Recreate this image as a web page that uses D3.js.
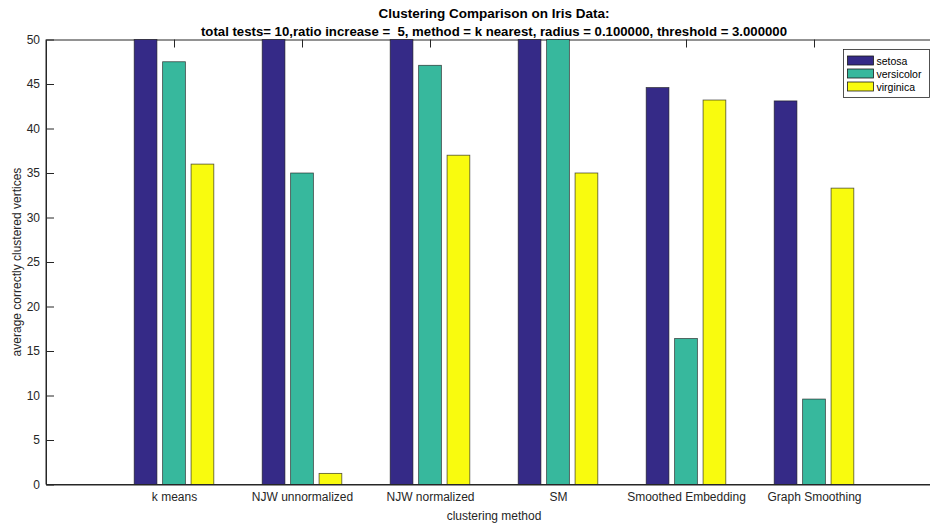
<!DOCTYPE html>
<html>
<head>
<meta charset="utf-8">
<script src="https://cdn.jsdelivr.net/npm/d3@7"></script>
<style>
  html, body { margin: 0; padding: 0; background: #fff; }
  svg { display: block; font-family: Arial, "Liberation Sans", Helvetica, sans-serif; }
</style>
</head>
<body>
<svg id="chart" width="930" height="525"></svg>
<script>
// Clustering methods compared on the Iris data set
const methods = ["k means", "NJW unnormalized", "NJW normalized", "SM", "Smoothed Embedding", "Graph Smoothing"];
const species = ["setosa", "versicolor", "virginica"];
// average number of correctly clustered vertices per species
const setosa = [50, 50, 50, 50, 44.6, 43.1];
const versicolor = [47.5, 35, 47.1, 50, 16.4, 9.6];
const virginica = [36, 1.25, 37, 35, 43.2, 33.3];
const yTicks = [0, 5, 10, 15, 20, 25, 30, 35, 40, 45, 50];
const colors = ["#352a87", "#37b89d", "#f9fb0e"];

const seriesValues = [setosa, versicolor, virginica];

const svg = d3.select("#chart");
const margin = { left: 46, top: 39.5, right: 942, bottom: 484.5 };

// x runs over category index, with a full unit of room on each side (0 .. n+1)
const x = d3.scaleLinear().domain([0, methods.length + 1]).range([margin.left, margin.right]);
const y = d3.scaleLinear().domain([0, 50]).range([margin.bottom, margin.top]);

const groupWidth = Math.min(0.8, species.length / (species.length + 1.5));
const step = groupWidth / species.length;
const barW = 0.8 * step;

const axisColor = "#262626";

// bars
const g = svg.append("g");
species.forEach((s, si) => {
  const off = (si - (species.length - 1) / 2) * step;
  g.selectAll(null)
    .data(seriesValues[si])
    .enter().append("rect")
    .attr("x", (d, i) => x(i + 1 + off - barW / 2))
    .attr("width", x(barW) - x(0))
    .attr("y", d => y(d))
    .attr("height", d => y(0) - y(d))
    .attr("fill", colors[si])
    .attr("stroke", "#1a1a1a")
    .attr("stroke-opacity", 0.75)
    .attr("stroke-width", 0.8);
});

// y axis (left) with ticks pointing inward
const yAxis = d3.axisLeft(y).tickValues(yTicks).tickSize(-8).tickPadding(6).tickSizeOuter(0);
const yg = svg.append("g").attr("transform", `translate(${margin.left},0)`).call(yAxis);
yg.select(".domain").attr("stroke", axisColor);
yg.selectAll(".tick line").attr("stroke", axisColor);
yg.selectAll(".tick text").attr("fill", axisColor).attr("font-size", 12);

// x axis (bottom): labels, inward ticks hidden under the bars
const xAxis = d3.axisBottom(x).tickValues(d3.range(1, methods.length + 1))
  .tickFormat(d => methods[d - 1]).tickSize(-8).tickPadding(8).tickSizeOuter(0);
const xg = svg.append("g").attr("transform", `translate(0,${margin.bottom})`).call(xAxis);
xg.lower();
xg.select(".domain").attr("stroke", axisColor);
xg.selectAll(".tick line").attr("stroke", axisColor);
xg.selectAll(".tick text").attr("fill", axisColor).attr("font-size", 12);

// top axis line with inward ticks
const xTop = d3.axisTop(x).tickValues(d3.range(1, methods.length + 1)).tickFormat("")
  .tickSize(-8).tickSizeOuter(0);
const tg = svg.append("g").attr("transform", `translate(0,${margin.top})`).call(xTop);
tg.lower();
tg.select(".domain").attr("stroke", axisColor);
tg.selectAll(".tick line").attr("stroke", axisColor);
// baseline and left spine drawn over the bars
svg.append("line")
  .attr("x1", margin.left).attr("x2", margin.right)
  .attr("y1", margin.bottom).attr("y2", margin.bottom)
  .attr("stroke", axisColor).attr("stroke-width", 1);
svg.append("line")
  .attr("x1", margin.left).attr("x2", margin.left)
  .attr("y1", margin.top).attr("y2", margin.bottom)
  .attr("stroke", axisColor).attr("stroke-width", 1);

// titles and axis labels
const cx = (margin.left + margin.right) / 2;
svg.append("text").attr("x", cx).attr("y", 18).attr("text-anchor", "middle")
  .attr("font-size", 13.5).attr("font-weight", "bold").attr("fill", "#000")
  .text("Clustering Comparison on Iris Data:");
svg.append("text").attr("x", cx).attr("y", 36).attr("text-anchor", "middle")
  .attr("font-size", 13.2).attr("font-weight", "bold").attr("fill", "#000")
  .style("white-space", "pre")
  .text("total tests= 10,ratio increase =  5, method = k nearest, radius = 0.100000, threshold = 3.000000");
svg.append("text").attr("x", cx).attr("y", 520).attr("text-anchor", "middle")
  .attr("font-size", 12).attr("fill", axisColor).text("clustering method");
svg.append("text")
  .attr("transform", `translate(21,${(margin.top + margin.bottom) / 2}) rotate(-90)`)
  .attr("text-anchor", "middle").attr("font-size", 12).attr("fill", axisColor)
  .text("average correctly clustered vertices");

// legend
const lg = svg.append("g").attr("transform", "translate(843.5,49.5)");
lg.append("rect").attr("width", 86).attr("height", 48)
  .attr("fill", "#fff").attr("stroke", axisColor).attr("stroke-width", 0.8);
species.forEach((s, i) => {
  const row = lg.append("g").attr("transform", `translate(4,${6.5 + i * 13})`);
  row.append("rect").attr("width", 26).attr("height", 9)
    .attr("fill", colors[i]).attr("stroke", "#1a1a1a").attr("stroke-width", 0.8);
  row.append("text").attr("x", 29).attr("y", 8.5).attr("font-size", 10.5)
    .attr("fill", "#000").text(s);
});
</script>
</body>
</html>
